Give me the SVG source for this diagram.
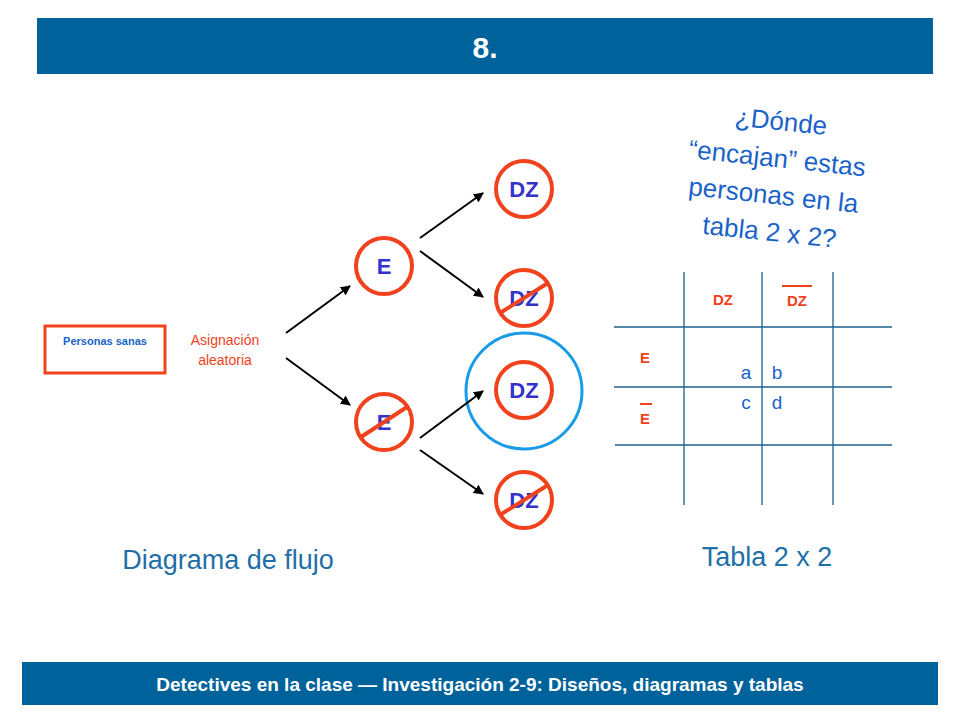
<svg xmlns="http://www.w3.org/2000/svg" width="960" height="720" viewBox="0 0 960 720">
<defs>
<style>
.hdr{fill:#00629b}
.n{fill:none;stroke:#f0421c;stroke-width:4}
.lbl{font-family:"Liberation Sans",Arial,sans-serif;font-weight:bold;fill:#3333cc;font-size:22px;text-anchor:middle}
.slash{stroke:#f0421c;stroke-width:4}
.arr{stroke:#000;stroke-width:2;marker-end:url(#ah)}
.grid{stroke:#1c5f8f;stroke-width:1.3}
.red{font-family:"Liberation Sans",Arial,sans-serif;font-weight:bold;fill:#f0421c;font-size:15px;text-anchor:middle}
.blue{font-family:"Liberation Sans",Arial,sans-serif;fill:#1a63c9;text-anchor:middle}
</style>
<marker id="ah" viewBox="0 0 10 10" refX="9" refY="5" markerWidth="5" markerHeight="5" orient="auto"><path d="M0,0L10,5L0,10z" fill="#000"/></marker>
</defs>
<rect width="960" height="720" fill="#fff"/>
<rect class="hdr" x="37" y="18" width="896" height="56"/>
<text x="485" y="58" font-family="Liberation Sans,Arial,sans-serif" font-weight="bold" font-size="30" fill="#fff" text-anchor="middle">8.</text>
<rect class="hdr" x="22" y="662" width="916" height="43"/>
<text x="480" y="691" font-family="Liberation Sans,Arial,sans-serif" font-weight="bold" font-size="19" fill="#fff" text-anchor="middle">Detectives en la clase — Investigación 2-9:  Diseños, diagramas y tablas</text>
<g id="sanas"><rect x="45" y="326" width="120" height="47" fill="none" stroke="#f0421c" stroke-width="3"/>
<text x="105" y="345" font-family="Liberation Sans,Arial,sans-serif" font-weight="bold" font-size="11" fill="#1a63c9" text-anchor="middle">Personas sanas</text></g>
<g id="asig"><text x="225" y="345" font-family="Liberation Sans,Arial,sans-serif" font-size="14" fill="#f0421c" text-anchor="middle">Asignación</text>
<text x="225" y="365" font-family="Liberation Sans,Arial,sans-serif" font-size="14" fill="#f0421c" text-anchor="middle">aleatoria</text></g>
<g id="e1"><circle class="n" cx="384" cy="266" r="28"/><text class="lbl" x="384" y="274">E</text></g>
<g id="e2"><circle class="n" cx="384" cy="422" r="28"/><text class="lbl" x="384" y="430">E</text><line class="slash" x1="361" y1="437" x2="407" y2="407"/></g>
<g id="blue"><circle cx="524" cy="391" r="58" fill="none" stroke="#1a9be8" stroke-width="3"/></g>
<g id="dz1"><circle class="n" cx="524" cy="189" r="28"/><text class="lbl" x="524" y="197">DZ</text></g>
<g id="dz2"><circle class="n" cx="524" cy="298" r="28"/><text class="lbl" x="524" y="306">DZ</text><line class="slash" x1="500" y1="313" x2="548" y2="283"/></g>
<g id="dz3"><circle class="n" cx="524" cy="390" r="28"/><text class="lbl" x="524" y="398">DZ</text></g>
<g id="dz4"><circle class="n" cx="524" cy="500" r="28"/><text class="lbl" x="524" y="508">DZ</text><line class="slash" x1="500" y1="515" x2="548" y2="485"/></g>
<g id="connectors">
<line class="arr" x1="286" y1="333" x2="350" y2="286"/>
<line class="arr" x1="286" y1="358" x2="350" y2="405"/>
<line class="arr" x1="420" y1="238" x2="483" y2="193"/>
<line class="arr" x1="420" y1="251" x2="483" y2="297"/>
<line class="arr" x1="420" y1="438" x2="483" y2="391"/>
<line class="arr" x1="420" y1="450" x2="483" y2="494"/>
</g>
<g id="table">
<line class="grid" x1="684" y1="272" x2="684" y2="505"/>
<line class="grid" x1="762" y1="272" x2="762" y2="505"/>
<line class="grid" x1="833" y1="272" x2="833" y2="505"/>
<line class="grid" x1="614" y1="327" x2="892" y2="327"/>
<line class="grid" x1="614" y1="387" x2="892" y2="387"/>
<line class="grid" x1="615" y1="445" x2="892" y2="445"/>
<text class="red" x="723" y="305">DZ</text>
<text class="red" x="797" y="306">DZ</text>
<line x1="782" y1="286" x2="812" y2="286" stroke="#f0421c" stroke-width="2"/>
<text class="red" x="645" y="363">E</text>
<text class="red" x="645" y="424">E</text>
<line x1="640" y1="404" x2="652" y2="404" stroke="#f0421c" stroke-width="2"/>
<text class="blue" x="746" y="379" font-size="19">a</text>
<text class="blue" x="777" y="379" font-size="19">b</text>
<text class="blue" x="746" y="409" font-size="19">c</text>
<text class="blue" x="777" y="409" font-size="19">d</text>
</g>
<g id="question" transform="rotate(6 775 180)" font-family="Liberation Sans,Arial,sans-serif" font-size="26" fill="#1a63c9" text-anchor="middle">
<text x="775" y="130">¿Dónde</text>
<text x="775" y="167">“encajan” estas</text>
<text x="775" y="204">personas en la</text>
<text x="775" y="241">tabla 2 x 2?</text>
</g>
<text x="228" y="569" font-family="Liberation Sans,Arial,sans-serif" font-size="27" fill="#1f6fa8" text-anchor="middle">Diagrama de flujo</text>
<text x="767" y="566" font-family="Liberation Sans,Arial,sans-serif" font-size="27" fill="#1f6fa8" text-anchor="middle">Tabla 2 x 2</text>
</svg>
